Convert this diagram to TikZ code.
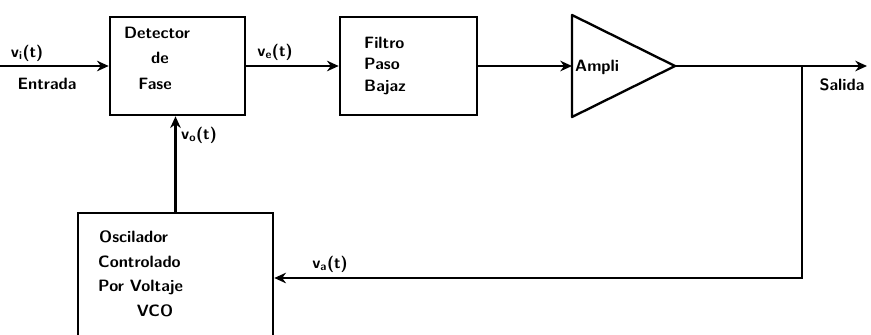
\documentclass[tikz,border=0pt]{standalone}
\usepackage{tikz}
\usetikzlibrary{arrows.meta}

\tikzset{
  blk/.style={draw,line width=2.2pt,minimum height=2.94cm},
  txt/.style={font=\fontsize{14}{16}\sffamily\bfseries,inner sep=0pt},
  sig/.style={line width=2pt,-{Stealth[length=10pt,width=9pt]}},
}

\begin{document}
\begin{tikzpicture}[x=0.03cm,y=-0.03cm]
  \useasboundingbox (0,0) rectangle (871,334);
  \clip (0,0) rectangle (871,334);
  \node[blk,minimum width=4.05cm] (det) at (177.5,66) {};
  \node[blk,minimum width=4.11cm] (fil) at (408.5,66) {};
  \node[blk,minimum width=5.85cm,minimum height=4.5cm] (vco) at (175.5,288) {};
  \coordinate (ampin) at (572,66);
  \coordinate (ampout) at (675,66);
  \draw[line width=2pt,line join=round] (572,15) -- (572,117) -- (ampout) -- cycle;

  \node[txt] (det1) at (157,33) {Detector};
  \node[txt] (det2) at (160,58) {de};
  \node[txt] (det3) at (155,84) {Fase};
  \node[txt,anchor=west] (fil1) at (364,43) {Filtro};
  \node[txt,anchor=west] (fil2) at (364,64) {Paso};
  \node[txt,anchor=west] (fil3) at (364,87) {Bajaz};
  \node[txt,anchor=west] (amp) at (575,67) {Ampli};
  \node[txt,anchor=west] (vco1) at (99,237) {Oscilador};
  \node[txt,anchor=west] (vco2) at (98,262) {Controlado};
  \node[txt,anchor=west] (vco3) at (98,287) {Por Voltaje};
  \node[txt] (vco4) at (155,311) {VCO};

  \node[txt] (vi) at (27,53) {v\textsubscript{i}(t)};
  \node[txt] (ent) at (47,84) {Entrada};
  \node[txt] (ve) at (275,52) {v\textsubscript{e}(t)};
  \node[txt] (vo) at (199,135) {v\textsubscript{o}(t)};
  \node[txt] (va) at (330,264) {v\textsubscript{a}(t)};
  \node[txt] (sal) at (842,85) {Salida};

  \coordinate (in) at (0,66);
  \coordinate (out) at (867,66);
  \coordinate (tap) at (802,66);
  \coordinate (fb) at (802,278);
  \draw[sig] (in) -- (det.west);
  \draw[sig] (det.east) -- (fil.west);
  \draw[sig] (fil.east) -- (ampin);
  \draw[sig] (ampout) -- (out);
  \draw[sig] (tap) -- (fb) -- (fb -| vco.east);
  \draw[sig] (vco.north) -- (vco.north |- det.south);
\end{tikzpicture}
\end{document}
